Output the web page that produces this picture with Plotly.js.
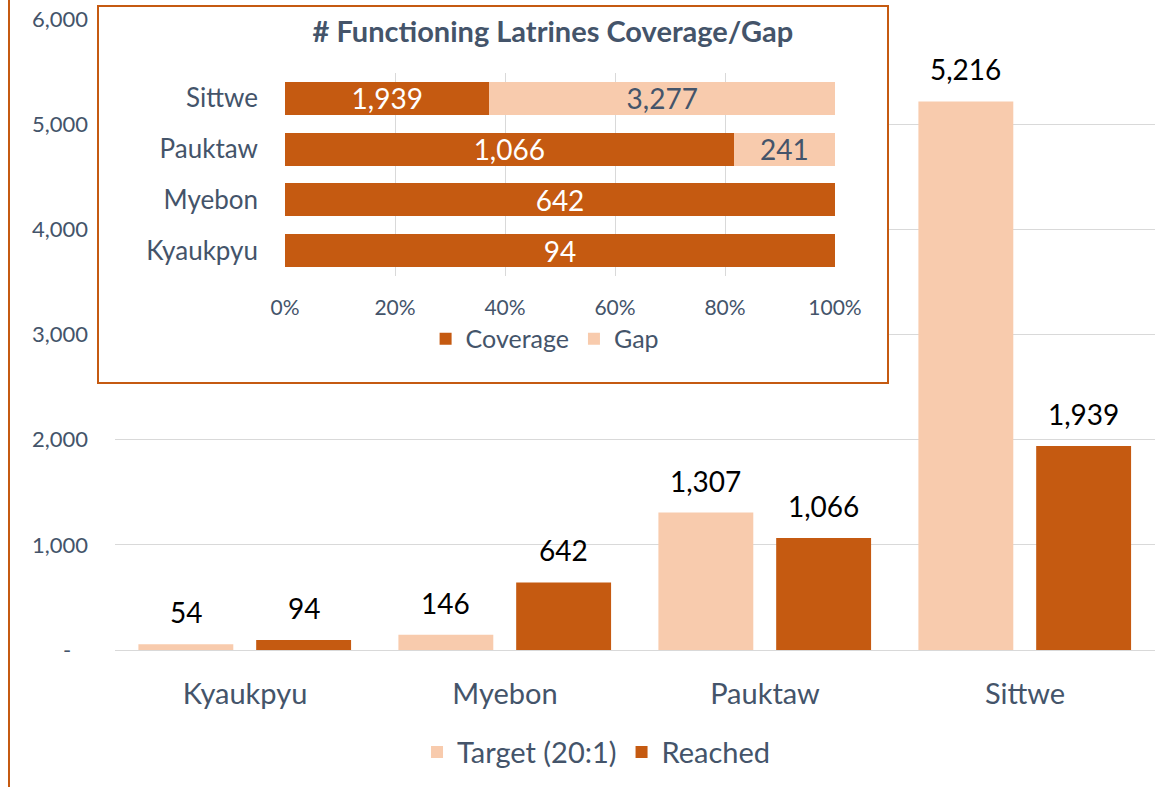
<!DOCTYPE html>
<html>
<head>
<meta charset="utf-8">
<script src="https://cdn.plot.ly/plotly-3.0.1.min.js"></script>
<style>
    body { margin: 0; background: #ffffff; }
    #frameLine { position: absolute; left: 8px; top: 0; width: 2px; height: 787px; background: #C55A11; }
    #mainChart { position: absolute; left: 0; top: 0; width: 1159px; height: 787px; }
    #insetBox {
        position: absolute; left: 97px; top: 5px; width: 792px; height: 379px;
        border: 2px solid #C55A11; box-sizing: border-box; background: #ffffff;
    }
    #insetChart { width: 788px; height: 375px; }
</style>
</head>
<body>
<div id="mainChart"></div>
<div id="frameLine"></div>
<div id="insetBox"><div id="insetChart"></div></div>

<script>
// values
let townships = ["Kyaukpyu", "Myebon", "Pauktaw", "Sittwe"];
let targetLatrines = [54, 146, 1307, 5216];   // Target (20:1)
let reachedLatrines = [94, 642, 1066, 1939];  // Reached
let gapLatrines = [0, 0, 241, 3277];          // Gap shown in the inset

let yTickVals = [0, 1000, 2000, 3000, 4000, 5000, 6000];
let yTickText = ["-\u00a0\u00a0\u00a0", "1,000", "2,000", "3,000", "4,000", "5,000", "6,000"];
let pctTickVals = [0, 20, 40, 60, 80, 100];
let pctTickText = ["0%", "20%", "40%", "60%", "80%", "100%"];

let darkOrange = "#C55A11";
let lightPeach = "#F8CBAD";
let slate = "#44546A";
let gridGrey = "#D9D9D9";
let fontFamily = "Lato, 'Open Sans', sans-serif";

function fmt(n) {
    return n.toLocaleString("en-US");
}

// ---------- main grouped bar chart ----------
let barWidth = 0.365;
let targetOffset = -0.41;
let reachedOffset = 0.043;

let targetTrace = {
    x: townships,
    y: targetLatrines,
    name: "Target (20:1)",
    type: "bar",
    width: barWidth,
    offset: targetOffset,
    marker: { color: lightPeach },
    hoverinfo: "none"
};
let reachedTrace = {
    x: townships,
    y: reachedLatrines,
    name: "Reached",
    type: "bar",
    width: barWidth,
    offset: reachedOffset,
    marker: { color: darkOrange },
    hoverinfo: "none"
};

// value labels above the bars (positioned through the data axes)
let valueLabels = [];
for (let i = 0; i < townships.length; i++) {
    valueLabels.push({
        x: i + targetOffset + barWidth / 2, y: targetLatrines[i],
        text: fmt(targetLatrines[i]), showarrow: false,
        yanchor: "middle", yshift: 32,
        font: { size: 28, color: "#000000", family: fontFamily }
    });
    valueLabels.push({
        x: i + reachedOffset + barWidth / 2, y: reachedLatrines[i],
        text: fmt(reachedLatrines[i]), showarrow: false,
        yanchor: "middle", yshift: 32,
        font: { size: 28, color: "#000000", family: fontFamily }
    });
}

let mainLayout = {
    width: 1159,
    height: 787,
    margin: { l: 115, r: 4, t: 19, b: 137 },
    paper_bgcolor: "#ffffff",
    plot_bgcolor: "#ffffff",
    font: { family: fontFamily, color: slate },
    barmode: "group",
    showlegend: true,
    legend: {
        orientation: "h",
        x: 0.463, xanchor: "center",
        y: -0.162, yanchor: "middle",
        font: { size: 29, color: slate },
        itemclick: false
    },
    xaxis: {
        type: "category",
        range: [-0.5, 3.5],
        showgrid: false,
        showline: false,
        ticks: "",
        tickfont: { size: 29, color: slate },
        ticklabelstandoff: 24
    },
    yaxis: {
        range: [0, 6000],
        tickvals: yTickVals,
        ticktext: yTickText,
        tickfont: { size: 22, color: slate },
        showgrid: true,
        gridcolor: gridGrey,
        gridwidth: 1,
        zeroline: true,
        zerolinecolor: gridGrey,
        showline: false,
        ticks: "",
        ticklabelstandoff: 26
    },
    annotations: valueLabels
};

Plotly.newPlot("mainChart", [targetTrace, reachedTrace], mainLayout, { staticPlot: true });

// ---------- inset: coverage / gap as 100% stacked bars ----------
let coverageTrace = {
    y: townships,
    x: reachedLatrines,
    name: "Coverage",
    type: "bar",
    orientation: "h",
    marker: { color: darkOrange },
    text: reachedLatrines.map(fmt),
    textposition: "inside",
    insidetextanchor: "middle",
    textangle: 0,
    constraintext: "none",
    textfont: { size: 28, color: "#ffffff", family: fontFamily },
    hoverinfo: "none"
};
let gapTrace = {
    y: townships,
    x: gapLatrines,
    name: "Gap",
    type: "bar",
    orientation: "h",
    marker: { color: lightPeach },
    text: gapLatrines.map(function (g) { return g > 0 ? fmt(g) : ""; }),
    textposition: "inside",
    insidetextanchor: "middle",
    textangle: 0,
    constraintext: "none",
    textfont: { size: 28, color: slate, family: fontFamily },
    hoverinfo: "none"
};

let insetLayout = {
    width: 788,
    height: 375,
    margin: { l: 186, r: 52, t: 66, b: 106 },
    paper_bgcolor: "#ffffff",
    plot_bgcolor: "#ffffff",
    font: { family: fontFamily, color: slate },
    barmode: "stack",
    barnorm: "percent",
    bargap: 0.35,
    title: {
        text: "<b># Functioning Latrines Coverage/Gap</b>",
        font: { size: 29, color: slate, family: fontFamily },
        xref: "paper", x: 0.487, xanchor: "center",
        yref: "container", y: 0.933, yanchor: "middle"
    },
    showlegend: true,
    legend: {
        orientation: "h",
        traceorder: "normal",
        x: 0.472, xanchor: "center",
        y: -0.31, yanchor: "middle",
        font: { size: 25, color: slate },
        itemclick: false
    },
    xaxis: {
        range: [0, 100],
        tickvals: pctTickVals,
        ticktext: pctTickText,
        tickfont: { size: 21, color: slate },
        showgrid: true,
        gridcolor: gridGrey,
        zeroline: false,
        showline: false,
        ticks: "",
        ticklabelstandoff: 17
    },
    yaxis: {
        type: "category",
        showgrid: false,
        showline: false,
        ticks: "",
        tickfont: { size: 26, color: slate },
        ticklabelstandoff: 26
    }
};

Plotly.newPlot("insetChart", [coverageTrace, gapTrace], insetLayout, { staticPlot: true });
</script>
</body>
</html>
